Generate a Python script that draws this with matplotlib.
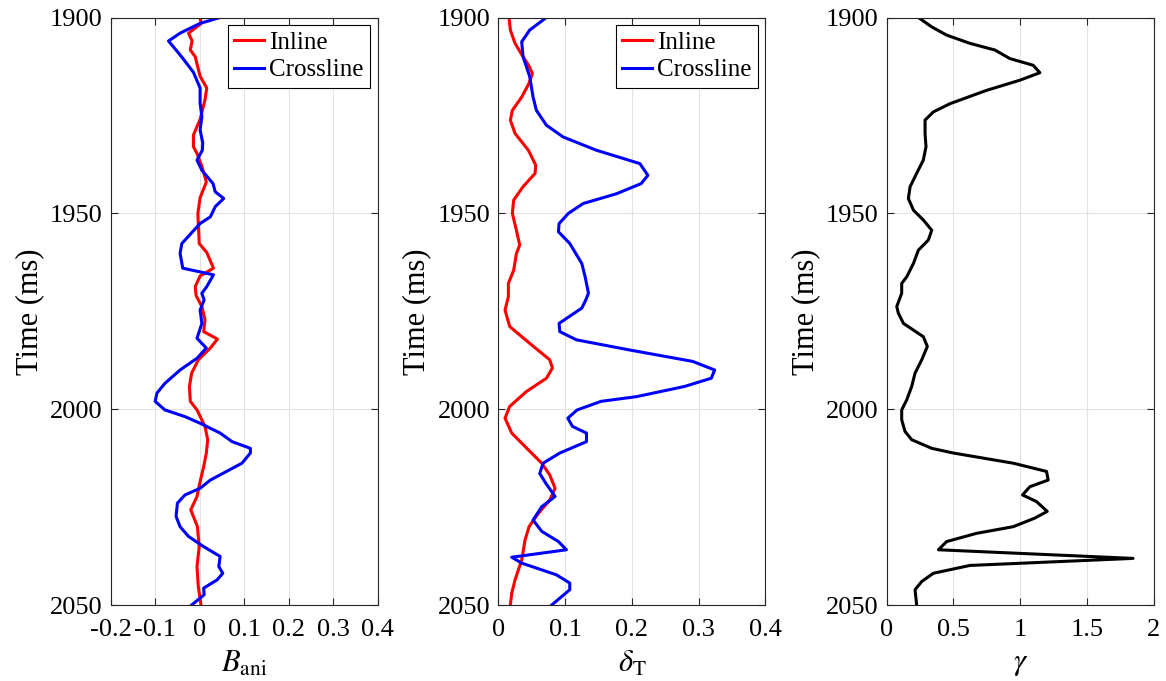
import matplotlib.pyplot as plt

plt.rcParams['font.family'] = ['Liberation Serif', 'DejaVu Serif']
plt.rcParams['mathtext.fontset'] = 'stix'

# panel 1: B_ani
t_b_in = [1900, 1901.5, 1904, 1906, 1908.3, 1910, 1915, 1918, 1921, 1926, 1930, 1933, 1934.7,
          1938, 1942, 1946, 1950, 1957.7, 1960, 1964, 1966, 1968.7, 1971, 1973.8, 1977.2,
          1980.2, 1982.1, 1984.4, 1987.4, 1990.8, 1994.2, 1998, 2000.2, 2004.4, 2007.8, 2011.2,
          2014.7, 2018.5, 2022.3, 2025.7, 2030, 2035.1, 2040.2, 2045.3, 2050]
b_in = [0.0, 0.004, -0.025, -0.017, -0.021, -0.01, 0.001, 0.016, 0.012, 0.001, -0.014, -0.014,
        -0.006, 0.005, 0.015, 0.001, -0.004, -0.001, 0.016, 0.031, 0.001, -0.01, -0.008, 0.005,
        0.012, 0.009, 0.04, 0.024, -0.003, -0.018, -0.023, -0.021, -0.006, 0.012, 0.018, 0.015,
        0.009, 0.001, -0.006, -0.02, -0.005, -0.001, -0.006, -0.003, 0.003]
t_b_cr = [1900, 1901.5, 1904, 1906, 1909, 1910.7, 1914, 1918, 1921.9, 1925.3, 1928.7, 1932,
          1933.9, 1936.4, 1939, 1942.4, 1944.5, 1946.2, 1948.3, 1950.9, 1952.6, 1957.7, 1960.2,
          1964, 1965.7, 1968.7, 1970.4, 1972.1, 1974.7, 1978.1, 1981.9, 1984.4, 1987, 1990,
          1993.4, 1995.9, 1998, 2000.2, 2001.9, 2003.6, 2006.1, 2008.3, 2010, 2011.2, 2013.8,
          2018.1, 2020.2, 2021.9, 2024, 2027.4, 2030, 2032.5, 2035.1, 2037.6, 2040.2, 2041.9,
          2043.6, 2045.7, 2047.4, 2050]
b_cr = [0.046, 0.001, -0.044, -0.07, -0.048, -0.036, -0.014, 0.001, 0.001, 0.005, 0.001, 0.007,
        0.006, -0.006, 0.005, 0.03, 0.035, 0.054, 0.035, 0.024, 0.001, -0.04, -0.044, -0.038,
        0.031, 0.016, 0.005, 0.01, 0.001, 0.005, -0.006, 0.015, -0.006, -0.044, -0.078, -0.096,
        -0.1, -0.078, -0.033, 0.001, 0.046, 0.073, 0.114, 0.114, 0.095, 0.024, 0.001, -0.033,
        -0.05, -0.053, -0.044, -0.025, 0.009, 0.046, 0.043, 0.052, 0.039, 0.009, 0.01, -0.018]

# panel 2: delta_T
t_d_in = [1900, 1903.2, 1906.6, 1910, 1912.1, 1914.3, 1916.8, 1920.3, 1923.7, 1926.2, 1929.6,
          1933.9, 1937.7, 1939.8, 1943.2, 1946.6, 1950, 1954.3, 1958.1, 1960.3, 1964.5, 1967.9,
          1971.3, 1974.7, 1978.9, 1983.2, 1987.4, 1989.5, 1992.1, 1995.5, 1999.3, 2002.3, 2006.1,
          2010.4, 2013.8, 2016.8, 2020.2, 2023.2, 2026.6, 2030, 2033.4, 2038.5, 2043.6, 2047, 2050]
d_in = [0.016, 0.018, 0.025, 0.037, 0.045, 0.051, 0.046, 0.035, 0.021, 0.018, 0.025, 0.045,
        0.056, 0.055, 0.037, 0.023, 0.021, 0.027, 0.032, 0.027, 0.023, 0.015, 0.015, 0.01,
        0.017, 0.047, 0.077, 0.081, 0.072, 0.042, 0.017, 0.01, 0.02, 0.045, 0.065, 0.077,
        0.085, 0.077, 0.06, 0.046, 0.04, 0.035, 0.025, 0.02, 0.018]
t_d_cr = [1900, 1903.2, 1906.2, 1910, 1915.1, 1920.3, 1923.7, 1927.5, 1930.5, 1933.9, 1937.3,
          1940.3, 1942.4, 1945, 1947.5, 1950, 1952.6, 1954.7, 1957.7, 1962.8, 1966.2, 1970.4,
          1972.1, 1974.2, 1978.1, 1980.2, 1982.3, 1984.9, 1987.8, 1990, 1992.1, 1994.2, 1996.8,
          1998, 2000.2, 2002.3, 2004.4, 2006.1, 2008.3, 2011.2, 2013.8, 2016.4, 2018.9, 2022.3,
          2024.9, 2028.3, 2031.2, 2033.8, 2035.9, 2037.8, 2039.3, 2042.3, 2044.4, 2046.1, 2050]
d_cr = [0.072, 0.047, 0.035, 0.037, 0.047, 0.052, 0.057, 0.072, 0.097, 0.147, 0.212, 0.224,
        0.214, 0.177, 0.127, 0.105, 0.091, 0.09, 0.107, 0.125, 0.13, 0.135, 0.131, 0.125, 0.091,
        0.092, 0.117, 0.197, 0.291, 0.324, 0.319, 0.279, 0.207, 0.154, 0.118, 0.104, 0.111,
        0.132, 0.132, 0.092, 0.067, 0.062, 0.071, 0.085, 0.065, 0.052, 0.065, 0.09, 0.102,
        0.02, 0.035, 0.087, 0.107, 0.107, 0.08]

# panel 3: gamma
t_g = [1900, 1902.4, 1904.5, 1906.6, 1908.3, 1910.5, 1912.2, 1914.1, 1916, 1918.6, 1922, 1924.1,
       1926.2, 1929.6, 1933, 1936.4, 1939.8, 1943.2, 1946.2, 1949.2, 1951.7, 1954.3, 1956.8,
       1959.4, 1962.8, 1966.2, 1967.9, 1970.4, 1973.8, 1975.5, 1978.1, 1981.5, 1984, 1987.4,
       1990.8, 1994.2, 1997.6, 2000.2, 2002.7, 2005.7, 2007.8, 2010, 2011.2, 2013.8, 2015.9,
       2018.1, 2019.8, 2021.9, 2023.6, 2026.1, 2027.8, 2030, 2031.7, 2033.8, 2035.9, 2038.1,
       2039.9, 2041.9, 2044, 2046.1, 2050]
gam = [0.237, 0.337, 0.449, 0.623, 0.81, 0.923, 1.097, 1.147, 0.998, 0.748, 0.474, 0.349,
       0.287, 0.287, 0.294, 0.274, 0.224, 0.175, 0.162, 0.2, 0.274, 0.337, 0.312, 0.237, 0.2,
       0.15, 0.112, 0.112, 0.075, 0.087, 0.125, 0.274, 0.304, 0.262, 0.212, 0.187, 0.15, 0.112,
       0.112, 0.137, 0.187, 0.337, 0.499, 0.948, 1.197, 1.209, 1.072, 1.017, 1.122, 1.202,
       1.11, 0.948, 0.673, 0.449, 0.387, 1.845, 0.623, 0.349, 0.262, 0.212, 0.224]

fig = plt.figure(figsize=(11.66, 6.81), dpi=100)
lefts = [0.0949, 0.4274, 0.7605]
axes = [fig.add_axes([l, 0.1116, 0.229, 0.8627]) for l in lefts]

ax1, ax2, ax3 = axes
ax1.plot(b_in, t_b_in, color='#ff0000', lw=2.2, label='Inline')
ax1.plot(b_cr, t_b_cr, color='#0000ff', lw=2.2, label='Crossline')
ax1.set_xlim(-0.2, 0.4)
ax1.set_xticks([-0.2, -0.1, 0, 0.1, 0.2, 0.3, 0.4])
ax1.set_xticklabels(['-0.2', '-0.1', '0', '0.1', '0.2', '0.3', '0.4'])
ax1.set_xlabel(r'$B_{\mathrm{ani}}$', fontsize=22, labelpad=6)

ax2.plot(d_in, t_d_in, color='#ff0000', lw=2.2, label='Inline')
ax2.plot(d_cr, t_d_cr, color='#0000ff', lw=2.2, label='Crossline')
ax2.set_xlim(0, 0.4)
ax2.set_xticks([0, 0.1, 0.2, 0.3, 0.4])
ax2.set_xticklabels(['0', '0.1', '0.2', '0.3', '0.4'])
ax2.set_xlabel(r'$\delta_{\mathrm{T}}$', fontsize=22, labelpad=6)

ax3.plot(gam, t_g, color='black', lw=2.2)
ax3.set_xlim(0, 2)
ax3.set_xticks([0, 0.5, 1, 1.5, 2])
ax3.set_xticklabels(['0', '0.5', '1', '1.5', '2'])
ax3.set_xlabel(r'$\gamma$', fontsize=22, labelpad=6)

for ax in axes:
    ax.set_ylim(2050, 1900)
    ax.set_yticks([1900, 1950, 2000, 2050])
    ax.set_ylabel('Time (ms)', fontsize=22, labelpad=4)
    ax.grid(True, color='#e3e3e3', lw=0.8)
    ax.set_axisbelow(True)
    ax.tick_params(direction='in', top=True, right=True, labelsize=19,
                   length=5, color='#262626')
    ax.tick_params(axis='x', pad=10)
    ax.tick_params(axis='y', pad=6)
    for s in ax.spines.values():
        s.set_color('#262626')
        s.set_linewidth(0.8)

for ax in (ax1, ax2):
    leg = ax.legend(loc='upper right', fontsize=18, fancybox=False, framealpha=1,
                    edgecolor='black', borderpad=0.25, labelspacing=0.2,
                    handlelength=1.2, handletextpad=0.2, borderaxespad=0.3)
    leg.get_frame().set_linewidth(0.8)

fig.savefig('out.png', dpi=100)
